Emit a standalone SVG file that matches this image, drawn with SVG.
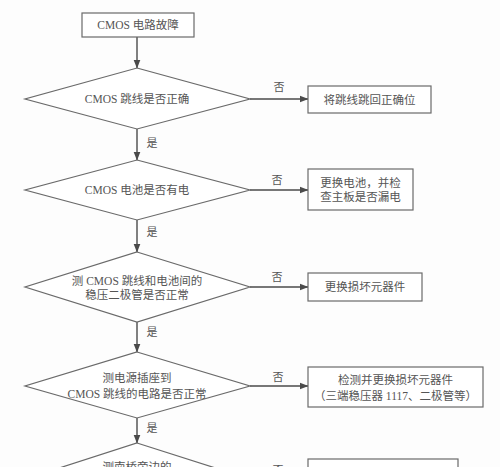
<svg xmlns="http://www.w3.org/2000/svg" width="500" height="467" viewBox="0 0 500 467">
<defs>
<marker id="ah" markerWidth="9" markerHeight="8" refX="8.5" refY="4" orient="auto" markerUnits="userSpaceOnUse">
<path d="M0,0.5 L9,4 L0,7.5 Z" fill="#4a4a4a"/>
</marker>
<style>
.n{fill:#fff;stroke:#6a6a6a;stroke-width:1.2}
.t{font-family:"Liberation Serif","Noto Sans CJK SC",serif;font-size:11.5px;fill:#555;text-anchor:middle;dominant-baseline:central}
.l{font-family:"Liberation Serif","Noto Sans CJK SC",serif;font-size:11px;fill:#555;text-anchor:middle;dominant-baseline:central}
.c{stroke:#4a4a4a;stroke-width:1.4;fill:none;marker-end:url(#ah)}
</style>
</defs>
<rect width="500" height="467" fill="#fdfdfd"/>
<g id="connectors">
<line class="c" x1="137" y1="37" x2="137" y2="68"/>
<line class="c" x1="137" y1="129" x2="137" y2="160"/>
<line class="c" x1="137" y1="220" x2="137" y2="252"/>
<line class="c" x1="137" y1="322" x2="137" y2="352"/>
<line class="c" x1="137" y1="418" x2="137" y2="443"/>
<line class="c" x1="250" y1="99" x2="308" y2="99"/>
<line class="c" x1="250" y1="190" x2="308" y2="190"/>
<line class="c" x1="250" y1="287" x2="308" y2="287"/>
<line class="c" x1="250" y1="386" x2="308" y2="386"/>
<text class="l" x="152" y="143">是</text>
<text class="l" x="152" y="232">是</text>
<text class="l" x="152" y="332">是</text>
<text class="l" x="152" y="428">是</text>
<text class="l" x="279" y="87">否</text>
<text class="l" x="277" y="180">否</text>
<text class="l" x="277" y="277">否</text>
<text class="l" x="278" y="377">否</text>
<text class="l" x="278" y="470">否</text>
</g>
<g id="start">
<rect class="n" x="82" y="13" width="112" height="24"/>
<text class="t" x="138" y="25">CMOS 电路故障</text>
</g>
<g id="d1">
<polygon class="n" points="137,68 250,99 137,129 25,99"/>
<text class="t" x="137" y="99">CMOS 跳线是否正确</text>
</g>
<g id="r1">
<rect class="n" x="308" y="86" width="123" height="27"/>
<text class="t" x="369.5" y="99.5">将跳线跳回正确位</text>
</g>
<g id="d2">
<polygon class="n" points="137,160 250,190 137,220 25,190"/>
<text class="t" x="137" y="190">CMOS 电池是否有电</text>
</g>
<g id="r2">
<rect class="n" x="308" y="169" width="105" height="41"/>
<text class="t" x="360.5" y="183">更换电池，并检</text>
<text class="t" x="360.5" y="197">查主板是否漏电</text>
</g>
<g id="d3">
<polygon class="n" points="137,252 250,287 137,322 25,287"/>
<text class="t" x="137" y="281">测 CMOS 跳线和电池间的</text>
<text class="t" x="137" y="295">稳压二极管是否正常</text>
</g>
<g id="r3">
<rect class="n" x="308" y="273" width="114" height="28"/>
<text class="t" x="365" y="287">更换损坏元器件</text>
</g>
<g id="d4">
<polygon class="n" points="137,352 250,386 137,418 25,386"/>
<text class="t" x="137" y="378">测电源插座到</text>
<text class="t" x="137" y="394">CMOS 跳线的电路是否正常</text>
</g>
<g id="r4">
<rect class="n" x="308" y="367" width="175" height="40"/>
<text class="t" x="395.5" y="380">检测并更换损坏元器件</text>
<text class="t" x="395.5" y="396">（三端稳压器 1117、二极管等）</text>
</g>
<g id="d5">
<polygon class="n" points="137,443 250,479 137,515 25,479"/>
<text class="t" x="137" y="467">测南桥旁边的</text>
</g>
<g id="r5">
<rect class="n" x="308" y="459" width="150" height="40"/>
</g>
</svg>
